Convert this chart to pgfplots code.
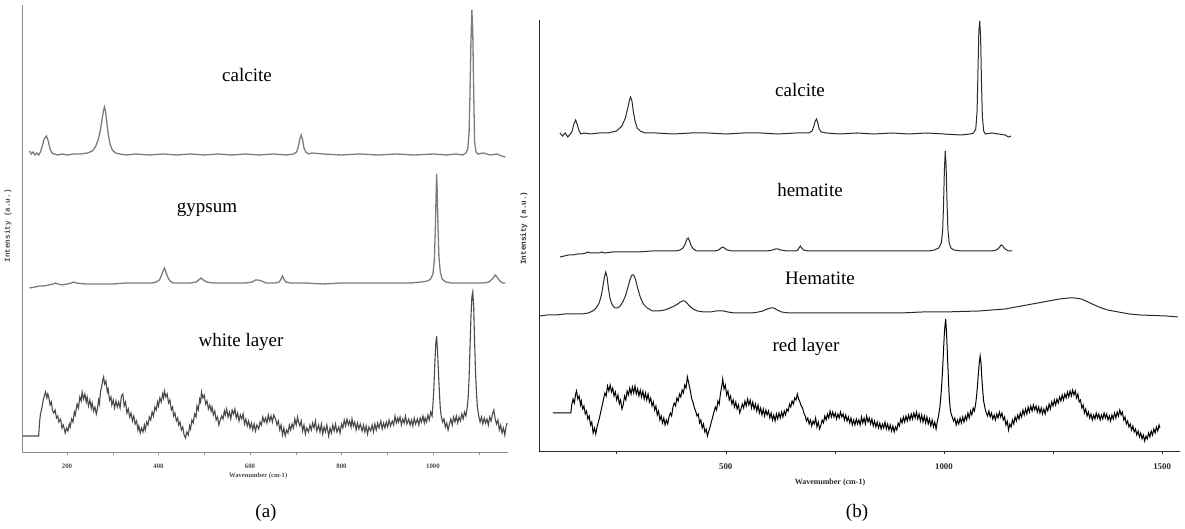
\documentclass[border=0pt]{standalone}
\usepackage{fontspec}
\setmainfont{Liberation Serif}
\setmonofont{Liberation Mono}
\usepackage{pgfplots}
\pgfplotsset{compat=1.18}

\definecolor{lgray}{HTML}{7C7C7C}
\definecolor{dgray}{HTML}{4A4A4A}
\definecolor{agray}{HTML}{8C8C8C}
\definecolor{bline}{HTML}{2A2A2A}

\pgfplotsset{
  raman/.style={scale only axis, axis x line*=bottom, axis y line*=left,
    ytick=\empty, ymin=0, tick align=outside, xtick pos=bottom,
    major tick length=1.6pt, minor tick length=1.6pt,
    xticklabel style={font=\fontsize{3.4}{4}\selectfont\bfseries, yshift=-1pt},
    /pgf/number format/assume math mode=true,
    /pgf/number format/1000 sep={},
    xlabel={Wavenumber (cm-1)}, ylabel={Intensity (a.u.)},
    ylabel style={font=\fontsize{3.8}{4}\selectfont\ttfamily\bfseries, anchor=center},
    xlabel style={font=\fontsize{3.3}{4}\selectfont\bfseries, anchor=center}}
}

\begin{document}
\begin{tikzpicture}[x=0.5pt,y=0.5pt]
\path[use as bounding box] (0,0) rectangle (1185,529);

% ---------- (a) ----------
\begin{axis}[raman, at={(11pt,38.5pt)}, anchor=south west,
  width=243pt, height=223.5pt, xmin=101.6, xmax=1164, ymax=447,
  xtick={200,400,600,800,1000}, minor xtick={300,500,700,900,1100},
  axis line style={agray, -}, tick style={agray},
  xticklabel style={text=dgray},
  xlabel style={at={(axis description cs:0.486,0)}, yshift=-12pt, text=dgray},
  ylabel style={at={(axis description cs:-0.029,0.506)}, text=dgray}]
% calcite
\addplot[lgray, line width=0.65pt] coordinates {
(118,301) (122,298) (126,300) (130,297) (134,299) (138,297) (142,300) (146,306) (150,313) (155,316) (159,311) (163,303) (167,299) (172,298) (180,297) (190,298) (200,297) (215,298) (230,298) (245,299) (255,301) (262,305) (268,312) (273,322) (277,334) (280,342) (282,345) (284,341) (287,330) (290,318) (294,308) (299,302) (306,299) (315,298) (330,297) (350,298) (380,297) (410,298) (440,297) (470,298) (500,297) (530,298) (560,297) (590,298) (620,297) (650,298) (680,297) (695,298) (702,300) (706,306) (709,313) (712,317) (715,312) (718,304) (722,300) (728,298) (735,299) (760,298) (800,297) (840,298) (880,297) (920,298) (960,297) (1000,298) (1030,297) (1050,298) (1065,297) (1072,299) (1076,303) (1079,320) (1081,360) (1083,410) (1085,442) (1087,420) (1089,360) (1091,310) (1094,300) (1098,298) (1110,299) (1125,297) (1140,298) (1150,296) (1158,295)};
% gypsum
\addplot[lgray, line width=0.65pt] coordinates {
(118,164) (130,165) (140,166) (150,166) (160,167) (170,168) (175,169) (180,168) (190,167) (200,168) (210,169) (215,170) (220,169) (240,168) (270,168) (300,168) (330,169) (360,169) (385,169) (395,170) (402,172) (406,176) (410,181) (413,184) (416,180) (420,175) (425,171) (432,169) (445,169) (470,169) (482,170) (488,172) (493,174) (498,172) (505,170) (520,169) (560,169) (590,169) (605,170) (612,172) (618,172) (625,171) (635,169) (655,169) (664,170) (668,173) (671,176) (674,173) (678,170) (690,169) (720,169) (760,168) (800,169) (840,169) (880,169) (920,169) (950,169) (975,170) (988,171) (995,173) (1000,178) (1003,192) (1005,220) (1007,260) (1008,278) (1009,265) (1011,225) (1013,195) (1016,180) (1020,173) (1028,170) (1040,169) (1080,169) (1110,169) (1122,170) (1130,173) (1136,177) (1140,175) (1146,171) (1152,169) (1158,169)};
% white layer
\addplot[dgray, line width=0.55pt] coordinates {
(103,16) (138,16) (140,30) (142,38) (145,44) (148,52) (151,57) (153,60) (156,54) (158,58) (160,55) (163,47) (166,50) (168,42) (171,39) (174,42) (177,34) (180,36) (182,30) (186,33) (189,24) (192,27) (196,19) (199,24) (202,21) (205,28) (207,25) (210,33) (213,30) (216,40) (218,37) (222,48) (225,44) (228,55) (231,51) (233,60) (236,53) (239,58) (242,50) (244,55) (247,46) (250,52) (253,44) (255,49) (258,41) (261,45) (264,38) (266,42) (269,52) (271,48) (273,60) (276,66) (278,72) (280,75) (282,68) (285,71) (288,60) (290,63) (293,52) (296,55) (298,47) (301,52) (304,44) (307,51) (310,45) (313,50) (316,44) (319,56) (322,58) (325,46) (328,50) (331,39) (334,43) (337,35) (340,39) (343,31) (346,36) (349,28) (352,31) (355,22) (357,26) (360,19) (363,24) (366,20) (369,27) (371,22) (374,30) (377,27) (380,35) (383,32) (386,40) (389,36) (392,45) (395,42) (398,50) (400,46) (403,54) (406,50) (409,58) (411,54) (413,61) (416,55) (419,58) (422,49) (425,52) (428,42) (431,45) (433,36) (436,39) (439,31) (442,34) (444,27) (447,30) (450,22) (453,25) (456,17) (459,14) (462,20) (465,17) (468,26) (470,23) (473,32) (476,29) (479,38) (482,35) (484,46) (487,42) (490,53) (492,50) (494,60) (497,54) (500,57) (503,48) (506,51) (509,43) (512,47) (515,41) (517,45) (520,37) (523,41) (526,32) (529,35) (532,27) (535,32) (538,36) (541,33) (544,41) (546,37) (549,43) (552,35) (555,40) (558,33) (561,42) (564,38) (567,43) (570,34) (573,39) (576,31) (579,37) (582,33) (585,38) (588,28) (591,33) (594,26) (597,31) (600,24) (603,29) (606,22) (609,28) (612,21) (615,27) (619,23) (622,30) (625,27) (628,35) (631,30) (634,34) (637,29) (640,37) (643,31) (646,36) (649,30) (652,37) (656,33) (659,27) (662,31) (665,22) (668,27) (671,17) (674,24) (677,16) (680,22) (683,19) (686,27) (689,22) (692,28) (695,24) (698,33) (701,27) (704,35) (706,30) (709,26) (712,31) (715,21) (718,27) (721,18) (724,24) (728,20) (731,27) (734,22) (737,29) (740,24) (743,31) (746,21) (750,27) (753,20) (756,28) (759,18) (762,25) (765,20) (768,27) (772,16) (775,24) (778,19) (781,27) (784,21) (787,28) (790,20) (794,25) (797,19) (800,28) (803,24) (806,32) (809,26) (812,33) (815,27) (818,31) (821,25) (823,33) (826,26) (829,30) (832,22) (835,29) (838,23) (841,28) (845,21) (848,27) (851,20) (854,26) (857,18) (860,25) (864,21) (867,27) (870,20) (873,28) (876,22) (879,29) (882,24) (886,31) (889,23) (892,29) (895,24) (898,30) (901,25) (904,32) (907,26) (911,31) (914,27) (917,36) (920,29) (923,34) (925,30) (928,35) (931,27) (934,33) (937,29) (940,36) (943,28) (947,33) (950,27) (953,32) (956,26) (959,34) (962,28) (966,33) (969,27) (972,34) (975,30) (978,36) (981,29) (983,34) (986,30) (989,37) (992,32) (995,40) (998,36) (1000,48) (1002,65) (1004,88) (1006,108) (1008,116) (1010,100) (1012,80) (1014,60) (1016,44) (1018,36) (1021,30) (1024,33) (1027,25) (1030,29) (1033,22) (1036,28) (1039,33) (1042,27) (1045,35) (1048,30) (1051,36) (1054,29) (1057,35) (1060,31) (1063,38) (1066,33) (1069,40) (1072,36) (1075,45) (1077,55) (1079,75) (1081,105) (1083,135) (1085,155) (1087,160) (1089,145) (1091,110) (1093,80) (1095,60) (1097,45) (1100,36) (1103,30) (1106,35) (1109,28) (1112,34) (1115,29) (1118,33) (1121,27) (1124,35) (1127,31) (1130,38) (1133,42) (1136,33) (1139,28) (1142,32) (1145,22) (1148,27) (1151,19) (1154,24) (1157,17) (1160,26) (1162,29)};
\end{axis}

% ---------- (b) ----------
\begin{axis}[raman, at={(269.5pt,39pt)}, anchor=south west,
  width=320.5pt, height=215.5pt, xmin=72, xmax=1541, ymax=431,
  xtick={500,1000,1500}, minor xtick={250,750,1250},
  axis line style={bline, -}, tick style={bline},
  xticklabel style={font=\fontsize{4.4}{5}\selectfont\bfseries, text=bline},
  xlabel style={font=\fontsize{4}{5}\selectfont\bfseries, at={(axis description cs:0.454,0)}, yshift=-16pt, text=bline},
  ylabel style={at={(axis description cs:-0.0234,0.517)}, text=bline}]
% calcite
\addplot[bline, line width=0.5pt] coordinates {
(120,318) (126,315) (132,318) (138,314) (144,317) (148,320) (152,327) (156,331) (160,326) (164,320) (168,317) (175,318) (190,317) (210,318) (230,318) (250,320) (262,325) (270,333) (276,344) (280,352) (282,354) (285,350) (288,340) (292,330) (297,323) (304,320) (315,318) (340,318) (380,317) (420,318) (460,318) (500,317) (540,318) (580,318) (620,317) (660,318) (690,318) (698,320) (702,325) (705,330) (708,332) (711,328) (714,322) (719,319) (730,318) (760,317) (800,318) (840,317) (880,318) (920,317) (960,318) (1000,317) (1040,316) (1060,317) (1068,318) (1073,322) (1076,340) (1078,380) (1080,420) (1082,430) (1084,415) (1086,370) (1088,335) (1091,320) (1095,317) (1110,318) (1125,317) (1140,316) (1148,314) (1154,315)};
% hematite
\addplot[bline, line width=0.5pt] coordinates {
(120,194) (130,195) (140,196) (150,196) (160,197) (170,197) (180,198) (184,199) (188,198) (200,198) (210,198) (216,199) (222,198) (240,199) (270,199) (300,199) (330,200) (360,200) (385,200) (395,201) (402,203) (407,207) (411,212) (414,213) (417,210) (421,205) (426,202) (433,200) (450,200) (475,200) (484,201) (489,203) (493,204) (497,203) (503,201) (515,200) (560,200) (595,200) (607,201) (614,202) (619,202) (626,201) (640,200) (660,200) (665,201) (668,203) (671,205) (674,203) (678,201) (690,200) (730,200) (780,200) (830,200) (880,200) (930,200) (965,200) (978,201) (988,203) (994,208) (997,220) (999,245) (1001,280) (1003,300) (1005,285) (1007,250) (1009,222) (1012,208) (1016,203) (1023,201) (1040,200) (1080,200) (1110,200) (1120,201) (1126,203) (1131,206) (1135,205) (1140,202) (1148,200) (1157,200)};
% Hematite
\addplot[bline, line width=0.5pt] coordinates {
(74,135) (90,136) (110,136) (130,137) (150,137) (170,137) (185,138) (195,140) (203,143) (210,148) (215,156) (219,166) (222,174) (225,179) (228,174) (231,163) (235,152) (240,146) (246,143) (252,143) (258,145) (264,149) (270,155) (276,164) (281,172) (285,176) (289,176) (293,172) (298,163) (304,154) (311,147) (320,143) (332,140) (345,140) (360,141) (372,143) (382,145) (390,147) (396,149) (401,150) (406,150) (411,148) (417,145) (425,142) (435,140) (450,139) (465,139) (478,140) (487,140) (495,140) (505,139) (520,138) (540,138) (560,138) (575,139) (585,140) (595,142) (603,143) (610,143) (618,141) (628,139) (645,138) (680,138) (720,138) (760,138) (800,138) (850,138) (900,138) (950,139) (1000,139) (1040,139.5) (1080,140) (1110,141) (1140,142) (1165,144) (1190,146) (1215,148) (1240,150) (1265,152) (1285,153) (1300,153) (1315,152) (1335,148) (1355,144) (1375,141) (1400,139) (1425,137) (1450,136) (1480,135.5) (1510,135) (1536,134)};
% red layer
\addplot[black, line width=0.5pt] coordinates {
(104,38) (145,38) (147,46) (150,52) (153,48) (156,57) (158,60) (161,52) (164,55) (167,46) (169,50) (172,42) (175,45) (178,37) (181,40) (184,32) (187,35) (190,26) (193,29) (196,18) (199,23) (202,17) (205,24) (208,29) (211,34) (214,40) (217,46) (220,52) (223,58) (226,55) (229,65) (232,60) (235,66) (238,59) (241,63) (244,55) (247,59) (250,51) (253,56) (256,47) (259,51) (262,42) (265,46) (268,55) (271,51) (274,60) (277,56) (280,63) (283,57) (286,64) (289,58) (292,65) (295,57) (298,62) (301,55) (304,61) (307,54) (310,60) (313,52) (316,58) (319,51) (322,57) (325,49) (328,53) (331,45) (334,49) (337,41) (340,45) (343,36) (346,40) (349,31) (352,35) (355,28) (358,33) (361,26) (364,31) (367,27) (370,34) (373,38) (376,35) (379,44) (382,48) (385,45) (388,53) (391,50) (394,57) (397,54) (400,61) (403,58) (406,66) (409,63) (412,74) (414,70) (416,66) (419,60) (422,52) (425,49) (428,43) (431,40) (434,35) (437,37) (440,28) (443,31) (446,23) (449,27) (452,19) (455,22) (458,15) (461,20) (464,24) (467,29) (470,34) (473,39) (476,44) (479,41) (482,50) (485,47) (488,58) (491,65) (493,72) (496,62) (499,66) (502,56) (505,60) (508,51) (511,55) (514,47) (517,51) (520,44) (523,49) (526,42) (529,46) (532,38) (535,42) (538,47) (541,43) (544,50) (547,45) (550,52) (553,46) (556,51) (559,43) (562,49) (565,42) (568,47) (571,40) (574,46) (577,38) (580,43) (583,36) (586,42) (589,35) (592,41) (595,36) (598,40) (601,33) (604,38) (607,31) (610,36) (613,30) (616,37) (619,32) (622,38) (625,33) (628,39) (631,34) (634,40) (637,36) (640,42) (643,40) (646,47) (649,44) (652,50) (655,47) (658,53) (661,51) (664,57) (667,52) (670,49) (673,45) (676,43) (679,38) (682,35) (685,30) (688,33) (691,27) (694,31) (697,25) (700,30) (703,27) (706,33) (709,24) (712,29) (715,22) (718,26) (721,31) (724,28) (727,35) (730,31) (733,37) (736,33) (739,40) (742,34) (745,39) (748,34) (751,38) (754,32) (757,37) (760,33) (763,39) (766,34) (769,37) (772,31) (775,36) (778,30) (781,34) (784,28) (787,33) (790,26) (793,31) (796,26) (799,32) (802,27) (805,31) (808,26) (811,34) (814,28) (817,33) (820,27) (823,35) (826,29) (829,33) (832,27) (835,32) (838,25) (841,30) (844,24) (847,29) (850,23) (853,28) (856,22) (859,27) (862,23) (865,29) (868,22) (871,27) (874,21) (877,26) (880,20) (883,25) (886,19) (889,24) (892,21) (895,28) (898,25) (901,32) (904,28) (907,34) (910,29) (913,35) (916,30) (919,36) (922,31) (925,37) (928,32) (931,38) (934,33) (937,39) (940,32) (943,37) (946,30) (949,36) (952,29) (955,35) (958,28) (961,34) (964,27) (967,32) (970,25) (973,31) (976,24) (979,29) (982,22) (985,30) (988,36) (991,45) (994,60) (997,82) (999,100) (1001,118) (1003,128) (1004,132) (1006,118) (1008,96) (1010,75) (1012,55) (1014,44) (1016,38) (1019,34) (1022,30) (1025,33) (1028,26) (1031,31) (1034,27) (1037,33) (1040,28) (1043,34) (1046,29) (1049,35) (1052,31) (1055,38) (1058,33) (1061,40) (1064,36) (1067,43) (1070,40) (1073,48) (1075,56) (1077,66) (1079,78) (1081,88) (1083,95) (1085,88) (1087,72) (1089,60) (1091,50) (1094,43) (1097,38) (1100,35) (1103,40) (1106,34) (1109,38) (1112,32) (1115,36) (1118,31) (1121,37) (1124,33) (1127,39) (1130,34) (1133,38) (1136,31) (1139,34) (1142,26) (1145,30) (1148,21) (1151,27) (1154,24) (1157,31) (1160,27) (1163,34) (1166,30) (1169,36) (1172,32) (1175,38) (1178,34) (1181,41) (1184,36) (1187,42) (1190,37) (1193,44) (1196,39) (1199,45) (1202,40) (1205,46) (1208,41) (1211,45) (1214,39) (1217,44) (1220,38) (1223,43) (1226,37) (1229,42) (1232,37) (1235,44) (1238,40) (1241,47) (1244,42) (1247,49) (1250,45) (1253,51) (1256,46) (1259,52) (1262,48) (1265,54) (1268,50) (1271,56) (1274,51) (1277,57) (1280,53) (1283,59) (1286,54) (1289,60) (1292,55) (1295,61) (1298,56) (1301,60) (1304,53) (1307,57) (1310,49) (1313,51) (1316,43) (1319,46) (1322,38) (1325,42) (1328,35) (1331,39) (1334,33) (1337,37) (1340,31) (1343,36) (1346,32) (1349,38) (1352,33) (1355,37) (1358,31) (1361,36) (1364,32) (1367,38) (1370,33) (1373,37) (1376,31) (1379,35) (1382,30) (1385,36) (1388,32) (1391,38) (1394,33) (1397,39) (1400,35) (1403,41) (1406,36) (1409,39) (1412,31) (1415,34) (1418,27) (1421,30) (1424,24) (1427,27) (1430,21) (1433,25) (1436,19) (1439,22) (1442,16) (1445,20) (1448,14) (1451,18) (1454,12) (1457,16) (1460,10) (1463,15) (1466,12) (1469,18) (1472,14) (1475,20) (1478,16) (1481,22) (1484,18) (1487,24) (1490,20) (1493,26) (1495,23)};
\end{axis}

% sample names and panel captions (image px, y up)
\begin{scope}[font=\fontsize{9.5}{11}\selectfont]
\node[anchor=base] at (247,447) {calcite};
\node[anchor=base] at (207,316) {gypsum};
\node[anchor=base] at (241,182) {white layer};
\node[anchor=base] at (800,432) {calcite};
\node[anchor=base] at (810,332) {hematite};
\node[anchor=base] at (820,244) {Hematite};
\node[anchor=base] at (806,177) {red layer};
\node[anchor=base] at (266,11) {(a)};
\node[anchor=base] at (857,11) {(b)};
\end{scope}
\end{tikzpicture}
\end{document}
